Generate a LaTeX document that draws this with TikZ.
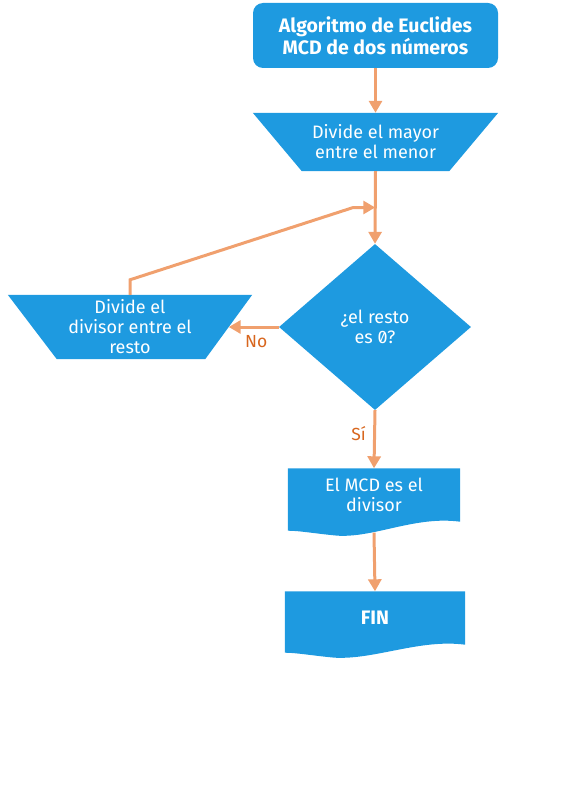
\documentclass[tikz,border=0pt]{standalone}
\usepackage{fontspec}
\setmainfont{Fira Sans}[Numbers=SlashedZero]
\usetikzlibrary{shapes.geometric,arrows.meta,calc}
\definecolor{fcblue}{RGB}{30,154,224}
\definecolor{fcline}{RGB}{240,160,110}
\definecolor{fclabel}{RGB}{216,102,30}
\pgfdeclarelayer{bg}
\pgfsetlayers{bg,main}
\begin{document}
\begin{tikzpicture}[x=1pt,y=-1pt,
  txt/.style={inner sep=0pt,text=white,align=center,font=\fontsize{18}{20}\selectfont},
  boldtxt/.style={txt,font=\fontsize{19.5}{20}\selectfont\bfseries},
  arr/.style={draw=fcline,line width=3pt,-{Triangle[width=13pt,length=12pt]}},
  lbl/.style={text=fclabel,font=\fontsize{17.5}{20}\selectfont}]
\useasboundingbox (0,0) rectangle (565,800);
% start
\node[boldtxt,fill=fcblue,rounded corners=10pt,minimum width=245pt,minimum height=65pt] (start) at (375.5,35.5) {Algoritmo de Euclides\\MCD de dos números};
% divide 1
\node[txt,minimum width=245pt,minimum height=58pt] (div1) at (375.5,142) {Divide el mayor\\entre el menor};
\begin{pgfonlayer}{bg}
\fill[fcblue] (div1.north west) -- (div1.north east) -- ($(div1.south east)+(-49,0)$) -- ($(div1.south west)+(49,0)$) -- cycle;
\end{pgfonlayer}
% decision
\node[txt,diamond,fill=fcblue,minimum width=192pt,minimum height=166pt] (dec) at (375,327) {¿el resto\\es 0?};
% divide 2
\node[txt,minimum width=244pt,minimum height=64pt] (div2) at (130,327) {Divide el\\divisor entre el\\resto};
\begin{pgfonlayer}{bg}
\fill[fcblue] (div2.north west) -- (div2.north east) -- ($(div2.south east)+(-47,0)$) -- ($(div2.south west)+(49,0)$) -- cycle;
\end{pgfonlayer}
\coordinate (div2e) at ($(div2.east)+(-23.5,0)$);
% result
\node[txt,minimum width=172pt,minimum height=53pt] (res) at (374,495) {El MCD es el\\divisor};
\begin{pgfonlayer}{bg}
\fill[fcblue] (res.north west) -- (res.north east) -- (res.south east)
  .. controls ($(res.south east)+(-45,-6)$) and ($(res.south east)+(-85,16)$) .. ($(res.south west)+(50,14)$)
  .. controls ($(res.south west)+(28,12)$) and ($(res.south west)+(12,9)$) .. ($(res.south west)+(0,9)$) -- cycle;
\end{pgfonlayer}
% fin
\node[boldtxt,minimum width=180pt,minimum height=53pt] (fin) at (375,618) {FIN};
\begin{pgfonlayer}{bg}
\fill[fcblue] (fin.north west) -- (fin.north east) -- (fin.south east)
  .. controls ($(fin.south east)+(-45,-6)$) and ($(fin.south east)+(-90,15)$) .. ($(fin.south west)+(50,13)$)
  .. controls ($(fin.south west)+(28,11)$) and ($(fin.south west)+(12,8)$) .. ($(fin.south west)+(0,8)$) -- cycle;
\end{pgfonlayer}
% connectors
\coordinate (join) at ($(div1.south)!0.5!(dec.north)$);
\draw[arr] (start.south) -- (div1.north);
\draw[arr] (div1.south) -- (dec.north);
\draw[arr] (div2.north) -- ++(0,-15) -- ($(join)+(-22,0)$) -- (join);
\draw[arr] (dec.west) -- node[lbl,pos=0.45,below=4pt] {No} (div2e);
\draw[arr] (dec.south) -- node[lbl,pos=0.4,left=4pt] {Sí} (res.north);
\draw[arr] ($(res.south)+(0,11)$) -- (fin.north);
\end{tikzpicture}
\end{document}
